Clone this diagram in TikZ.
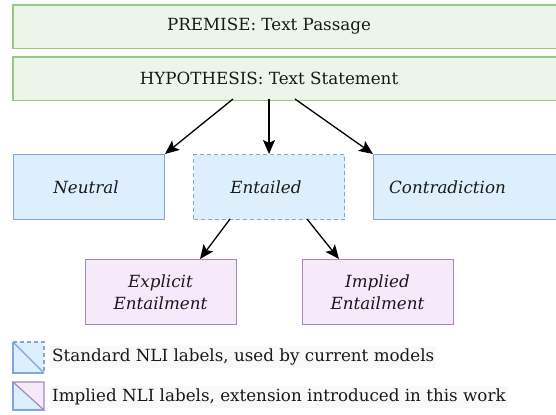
\documentclass[tikz,border=0pt]{standalone}
\usepackage{fontspec}
\setmainfont{DejaVu Serif}
\usetikzlibrary{arrows.meta}
\definecolor{grnfill}{HTML}{EDF5EA}
\definecolor{bfill}{HTML}{DDEEFD}
\definecolor{bdraw}{HTML}{7FA7DB}
\definecolor{pfill}{HTML}{F6E9FA}
\definecolor{pdraw}{HTML}{A687BE}
\definecolor{legbg}{HTML}{F9F9F9}
\begin{document}
\begin{tikzpicture}[x=1bp,y=-1bp,
  boxbase/.style={line width=1.4bp, inner sep=0pt, anchor=north west},
  greenbox/.style={boxbase, fill=grnfill},
  grnborder/.style={draw={rgb,255:red,150;green,202;blue,130}, line width=1.6bp},
  bluebox/.style={boxbase, draw=bdraw, fill=bfill},
  purplebox/.style={boxbase, draw=pdraw, fill=pfill},
  lbl/.style={font=\fontsize{16.8}{20}\selectfont, inner sep=0pt, text=black!90},
  itl/.style={lbl, font=\fontsize{16.8}{20}\selectfont\itshape},
  ilbl/.style={lbl, font=\fontsize{16.8}{22}\selectfont\itshape, align=center},
  leglbl/.style={lbl, anchor=west, fill=legbg, inner xsep=2bp, inner ysep=3bp},
  arr/.style={-{Stealth[length=14bp,width=12bp,inset=3bp]}, line width=1.3bp, black}]
\useasboundingbox (0,0) rectangle (556,414);
\begin{scope}
\clip (0,0) rectangle (556,414);
% green boxes
\node[greenbox, minimum width=550bp, minimum height=42bp] (premiseBox) at (13,5) {};
\draw[grnborder] (premiseBox.north west) rectangle (premiseBox.south east);
\node[lbl] (premise) at (269,26) {PREMISE: Text Passage};
\node[greenbox, minimum width=550bp, minimum height=42bp] (hypBox) at (13,57) {};
\draw[grnborder] (hypBox.north west) rectangle (hypBox.south east);
\node[lbl] (hyp) at (269,78) {HYPOTHESIS: Text Statement};
% blue boxes
\node[bluebox, minimum width=151bp, minimum height=65bp] (neutralBox) at (13,154) {};
\node[itl] (neutral) at (86,187) {Neutral};
\node[bluebox, dashed, dash pattern=on 4bp off 3bp, minimum width=151bp, minimum height=65bp] (entBox) at (193,154) {};
\node[itl] (ent) at (266,187) {Entailed};
\node[bluebox, minimum width=200bp, minimum height=65bp] (contraBox) at (373,154) {};
\node[itl] (contra) at (447.5,187) {Contradiction};
% purple boxes
\node[purplebox, minimum width=151bp, minimum height=65bp] (explBox) at (85,259) {};
\node[ilbl] (expl) at (160.5,292) {Explicit\\Entailment};
\node[purplebox, minimum width=151bp, minimum height=65bp] (implBox) at (302,259) {};
\node[ilbl] (impl) at (377.5,292) {Implied\\Entailment};
\end{scope}
% arrows
\coordinate (h1) at (233,99);
\coordinate (h2) at (269,99);
\coordinate (h3) at (295,99);
\coordinate (n1) at (165,154);
\coordinate (e1) at (269,154);
\coordinate (c1) at (373,154);
\draw[arr] (h1) -- (n1);
\draw[arr] (h2) -- (e1);
\draw[arr] (h3) -- (c1);
\coordinate (s1) at (230,219);
\coordinate (s2) at (307,219);
\coordinate (x1) at (200,259);
\coordinate (i1) at (339,259);
\draw[arr] (s1) -- (x1);
\draw[arr] (s2) -- (i1);
% legend
\fill[bfill] (13,342) rectangle (44,373);
\draw[bdraw, line width=1.2bp] (13,342) -- (13,373) -- (44,373);
\draw[bdraw, line width=1.2bp, dash pattern=on 4bp off 3bp] (13,342) -- (44,342) -- (44,373);
\draw[bdraw, line width=1.2bp] (13,342) -- (44,373);
\fill[bfill] (13,382) -- (13,410) -- (44,410) -- cycle;
\fill[pfill] (13,382) -- (44,382) -- (44,410) -- cycle;
\draw[bdraw, line width=1.2bp] (13,382) -- (13,410) -- (44,410);
\draw[pdraw, line width=1.2bp] (13,382) -- (44,382) -- (44,410) -- cycle;
\node[leglbl] (leg1) at (50,357) {Standard NLI labels, used by current models};
\node[leglbl] (leg2) at (50,397) {Implied NLI labels, extension introduced in this work};
\end{tikzpicture}
\end{document}
